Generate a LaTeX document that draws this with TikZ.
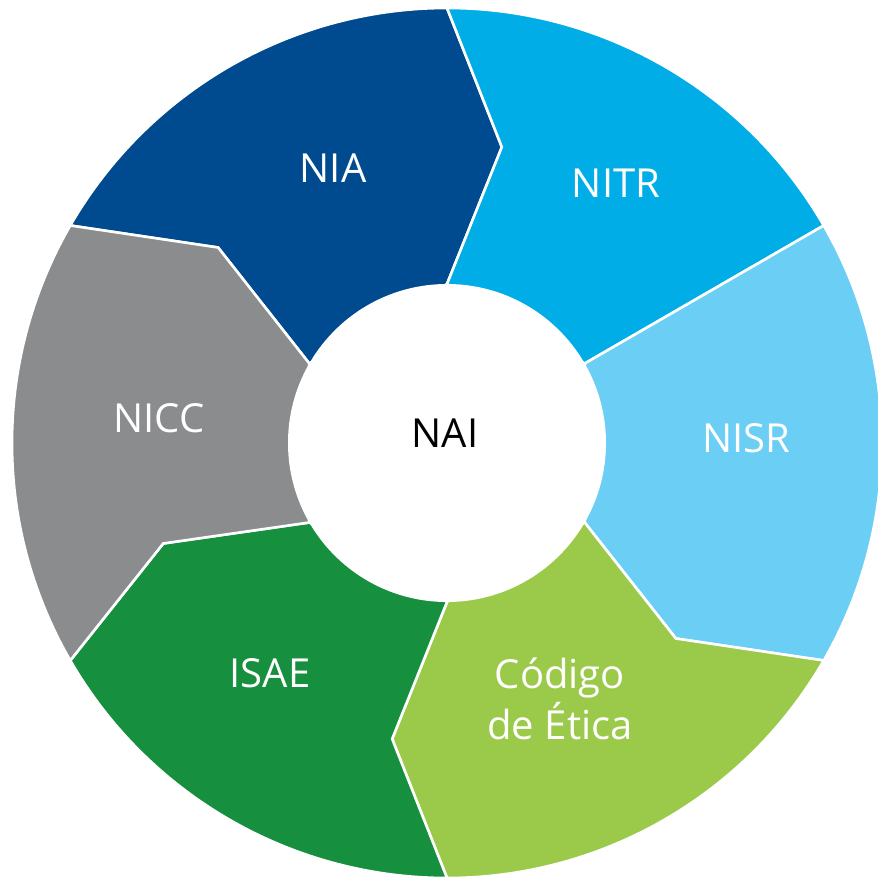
\documentclass[tikz,border=0pt]{standalone}
\usepackage{fontspec}
\setmainfont{Open Sans}
\definecolor{cNIA}{HTML}{004B8F}
\definecolor{cNITR}{HTML}{00ADE6}
\definecolor{cNISR}{HTML}{6BCEF4}
\definecolor{cCOD}{HTML}{9BCA4B}
\definecolor{cISAE}{HTML}{168F3F}
\definecolor{cNICC}{HTML}{8B8C8E}
\begin{document}
\begin{tikzpicture}[x=1pt,y=1pt,
  seg/.style={draw=white,line width=2.6pt,line join=miter},
  lbl/.style={text=white,font=\fontsize{40}{48}\selectfont,anchor=base,align=center},
]
\useasboundingbox (-447,-433) rectangle (431,443);
\def\Ro{435}\def\Rk{301}\def\Ri{159}
% NIA
\path[seg,fill=cNIA] (90:\Ri) -- (79.5:\Rk) -- (90:\Ro) arc[start angle=90,end angle=150,radius=\Ro] -- (139.5:\Rk) -- (150:\Ri) -- cycle;
% NITR
\path[seg,fill=cNITR] (30:\Ri) -- (30:\Ro) arc[start angle=30,end angle=90,radius=\Ro] -- (79.5:\Rk) -- (90:\Ri) -- cycle;
% NISR
\path[seg,fill=cNISR] (-30:\Ri) -- (-40.5:\Rk) -- (-30:\Ro) arc[start angle=-30,end angle=30,radius=\Ro] -- (30:\Ri) -- cycle;
% Codigo
\path[seg,fill=cCOD] (-90:\Ri) -- (-100.5:\Rk) -- (-90:\Ro) arc[start angle=-90,end angle=-30,radius=\Ro] -- (-40.5:\Rk) -- (-30:\Ri) -- cycle;
% ISAE
\path[seg,fill=cISAE] (210:\Ri) -- (199.5:\Rk) -- (210:\Ro) arc[start angle=210,end angle=270,radius=\Ro] -- (259.5:\Rk) -- (270:\Ri) -- cycle;
% NICC
\path[seg,fill=cNICC] (150:\Ri) -- (139.5:\Rk) -- (150:\Ro) arc[start angle=150,end angle=210,radius=\Ro] -- (199.5:\Rk) -- (210:\Ri) -- cycle;
% centre
\fill[white] (0,0) circle[radius=\Ri];
\node[lbl] (nia) at (-114,260) {NIA};
\node[lbl] (nitr) at (169,245) {NITR};
\node[lbl] (nisr) at (299,-9) {NISR};
\node[lbl,text=black] (nai) at (-2,-4) {NAI};
\node[lbl] (nicc) at (-288,11) {NICC};
\node[lbl] (isae) at (-177,-244) {ISAE};
\node[lbl] (cod) at (113,-245) {Código};
\node[lbl] (etica) at (113,-296) {de Ética};
\end{tikzpicture}
\end{document}
